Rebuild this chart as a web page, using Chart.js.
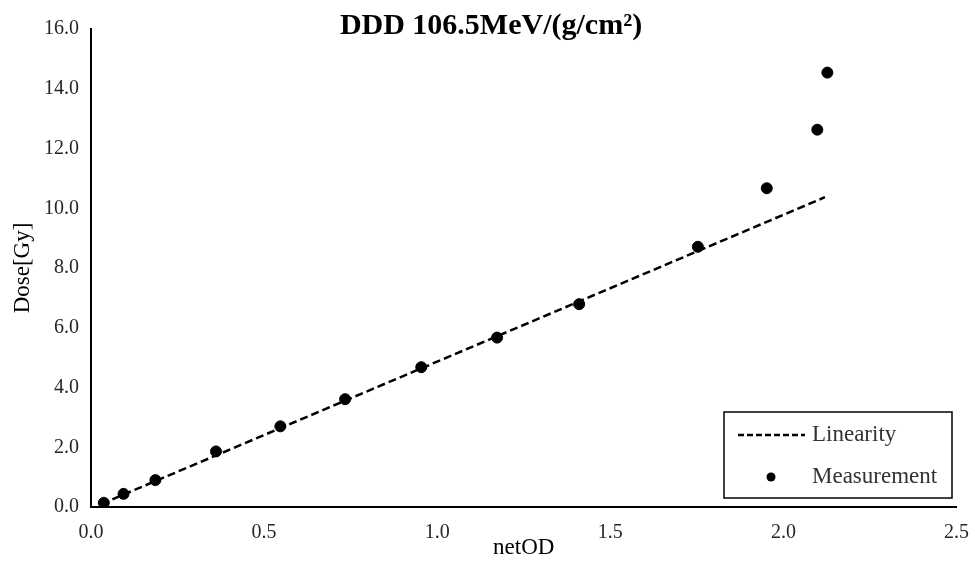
<!DOCTYPE html>
<html>
<head>
<meta charset="utf-8">
<script src="https://cdn.jsdelivr.net/npm/chart.js@4"></script>
<style>
  html, body { margin: 0; padding: 0; background: #fff; }
  #wrap { width: 975px; height: 562px; position: relative; }
</style>
</head>
<body>
<div id="wrap"><canvas id="grafica" width="975" height="562"></canvas></div>
<script>
// Measured points (netOD vs dose)
const netOD = [0.037, 0.094, 0.186, 0.361, 0.547, 0.734, 0.954, 1.173, 1.410, 1.753, 1.952, 2.098, 2.127];
const dose  = [0.14, 0.44, 0.90, 1.86, 2.70, 3.61, 4.68, 5.67, 6.79, 8.71, 10.67, 12.63, 14.54];

// Linear fit endpoints
const fitOD   = [0.03, 2.12];
const fitDose = [0.10, 10.37];

const xTicks = [0, 0.5, 1.0, 1.5, 2.0, 2.5];
const yTicks = [0, 2, 4, 6, 8, 10, 12, 14, 16];

const titulo = 'DDD 106.5MeV/(g/cm²)';
const serif = '"Liberation Serif", "Times New Roman", serif';

const puntos = netOD.map((x, i) => ({ x, y: dose[i] }));
const recta = fitOD.map((x, i) => ({ x, y: fitDose[i] }));

// title + boxed legend drawn on the canvas
const extras = {
  id: 'extras',
  afterDraw(chart){
    const ctx = chart.ctx;
    ctx.save();
    ctx.fillStyle = '#000';
    ctx.font = 'bold 30px ' + serif;
    ctx.textAlign = 'center';
    ctx.textBaseline = 'alphabetic';
    ctx.fillText(titulo, 491, 34);

    // legend box
    const bx = 724, by = 412, bw = 228, bh = 86;
    ctx.fillStyle = '#fff';
    ctx.fillRect(bx, by, bw, bh);
    ctx.strokeStyle = '#000';
    ctx.lineWidth = 1.5;
    ctx.strokeRect(bx, by, bw, bh);

    const ds = chart.data.datasets;
    ctx.font = '23px ' + serif;
    ctx.textAlign = 'left';
    ctx.textBaseline = 'middle';

    ctx.strokeStyle = '#000';
    ctx.lineWidth = 2.5;
    ctx.setLineDash([6, 3]);
    ctx.beginPath();
    ctx.moveTo(738, 435);
    ctx.lineTo(805, 435);
    ctx.stroke();
    ctx.setLineDash([]);
    ctx.fillStyle = '#333';
    ctx.fillText(ds[0].label, 812, 435);

    ctx.fillStyle = '#000';
    ctx.beginPath();
    ctx.arc(771, 477, 4.5, 0, Math.PI * 2);
    ctx.fill();
    ctx.fillStyle = '#333';
    ctx.fillText(ds[1].label, 812, 477);
    ctx.restore();
  }
};

new Chart(document.getElementById('grafica'), {
  type: 'scatter',
  data: {
    datasets: [
      {
        label: 'Linearity',
        data: recta,
        showLine: true,
        borderColor: '#000',
        borderWidth: 2.5,
        borderDash: [8, 4],
        pointRadius: 0,
        fill: false
      },
      {
        label: 'Measurement',
        data: puntos,
        showLine: false,
        pointRadius: 5.5,
        pointBackgroundColor: '#000',
        pointBorderColor: '#000'
      }
    ]
  },
  options: {
    responsive: false,
    animation: false,
    layout: { padding: { left: 0, top: 29, right: 17, bottom: 0 } },
    plugins: {
      legend: { display: false },
      title: { display: false },
      tooltip: { enabled: false }
    },
    scales: {
      x: {
        type: 'linear',
        min: 0,
        max: 2.5,
        afterBuildTicks: s => { s.ticks = xTicks.map(v => ({ value: v })); },
        afterFit: s => { s.height = 55; },
        grid: { display: false },
        border: { display: true, color: '#000', width: 2 },
        ticks: {
          padding: 6,
          color: '#262626',
          font: { family: serif, size: 20 },
          callback: v => Number(v).toFixed(1)
        },
        title: {
          display: true,
          text: 'netOD',
          color: '#000',
          padding: { top: 0, bottom: 0 },
          font: { family: serif, size: 23 }
        }
      },
      y: {
        min: 0,
        max: 16,
        afterBuildTicks: s => { s.ticks = yTicks.map(v => ({ value: v })); },
        afterFit: s => { s.width = 91; },
        grid: { display: false },
        border: { display: true, color: '#000', width: 2 },
        ticks: {
          padding: 4,
          color: '#262626',
          font: { family: serif, size: 20 },
          callback: v => Number(v).toFixed(1)
        },
        title: {
          display: true,
          text: 'Dose[Gy]',
          color: '#000',
          padding: { top: 9, bottom: 4 },
          font: { family: serif, size: 23 }
        }
      }
    }
  },
  plugins: [extras]
});
</script>
</body>
</html>
